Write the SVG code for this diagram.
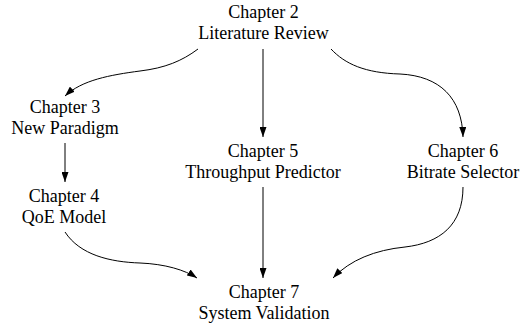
<svg xmlns="http://www.w3.org/2000/svg" width="531" height="324" viewBox="0 0 531 324">
  <style>
    .lbl { font-family: "Liberation Serif", "Times New Roman", serif; font-size: 18px; fill: #000; text-anchor: middle; }
    .edge { fill: none; stroke: #000; stroke-width: 1; marker-end: url(#arrow); }
  </style>
  <defs>
    <marker id="arrow" viewBox="0 0 10 7" refX="10" refY="3.5" markerUnits="userSpaceOnUse" markerWidth="10" markerHeight="7" orient="auto">
      <path d="M0,0 L10,3.5 L0,7 z" fill="#000"/>
    </marker>
  </defs>
  <rect width="531" height="324" fill="#fff"/>

  <g id="edges">
    <path class="edge" d="M198,49 C182,61 165,68 140,71 C110,75 82,80 65,96"/>
    <path class="edge" d="M263,49 L263,137"/>
    <path class="edge" d="M331,49 C345,64 365,73 400,74 C440,76 462,98 463,137"/>
    <path class="edge" d="M65,143 L65,182"/>
    <path class="edge" d="M263,187 L263,278"/>
    <path class="edge" d="M65,232 C80,255 110,262 140,263 C165,264 185,270 197,278"/>
    <path class="edge" d="M463,187 C463,225 440,243 405,247 C375,250 350,260 333,278"/>
  </g>

  <g id="ch2">
    <text class="lbl" x="263.5" y="18">Chapter 2</text>
    <text class="lbl" x="263.5" y="39">Literature Review</text>
  </g>
  <g id="ch3">
    <text class="lbl" x="65" y="113">Chapter 3</text>
    <text class="lbl" x="65" y="134">New Paradigm</text>
  </g>
  <g id="ch4">
    <text class="lbl" x="64" y="202">Chapter 4</text>
    <text class="lbl" x="64" y="223">QoE Model</text>
  </g>
  <g id="ch5">
    <text class="lbl" x="263" y="157">Chapter 5</text>
    <text class="lbl" x="263" y="178">Throughput Predictor</text>
  </g>
  <g id="ch6">
    <text class="lbl" x="463" y="157">Chapter 6</text>
    <text class="lbl" x="463" y="178">Bitrate Selector</text>
  </g>
  <g id="ch7">
    <text class="lbl" x="264" y="298">Chapter 7</text>
    <text class="lbl" x="264" y="319">System Validation</text>
  </g>
</svg>
